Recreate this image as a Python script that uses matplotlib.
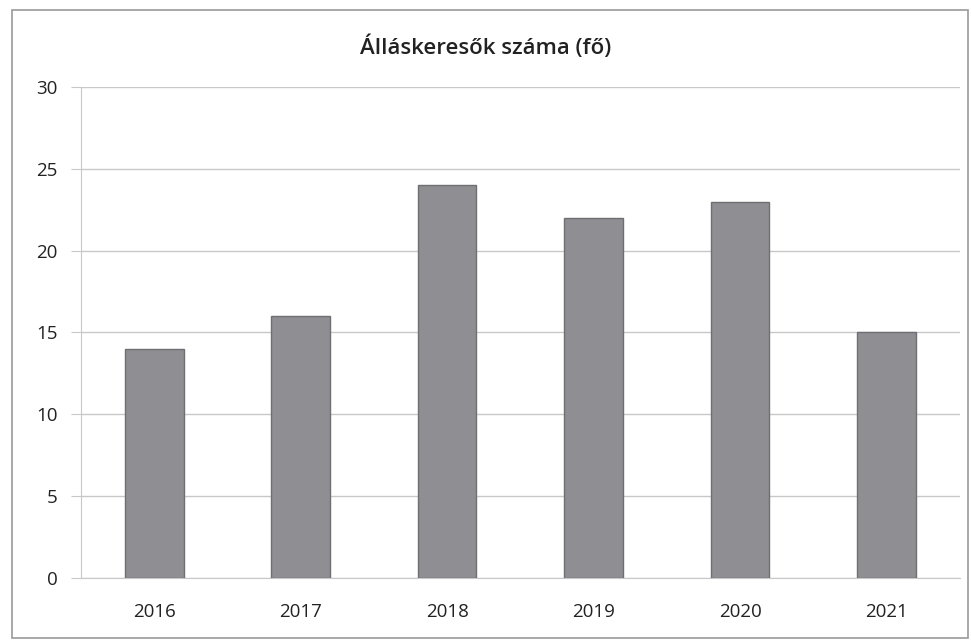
import matplotlib

matplotlib.use("Agg")
import matplotlib.pyplot as plt
import matplotlib.patches as patches
import numpy as np

years = ["2016", "2017", "2018", "2019", "2020", "2021"]
counts = [14, 16, 24, 22, 23, 15]

BAR = "#8f8f93"
EDGE = "#6f6f73"
GRID = "#c8c8c8"
TXT = "#222222"

plt.rcParams["font.family"] = ["Open Sans", "DejaVu Sans"]

fig = plt.figure(figsize=(9.71, 6.42), dpi=100, facecolor="white")

# outer chart frame (scanned Excel look)
frame = patches.Rectangle((0.012, 0.006), 0.985, 0.978, transform=fig.transFigure,
                          fill=False, edgecolor="#9a9a9a", linewidth=1.2)
fig.patches.append(frame)

ax = fig.add_axes([0.0834, 0.0997, 0.905, 0.7648])
x = np.arange(len(years))
ax.bar(x, counts, width=0.4, color=BAR, edgecolor=EDGE, linewidth=1, zorder=3)

ax.set_xlim(-0.5, len(years) - 0.5)
ax.set_ylim(0, 30)
ax.set_yticks(range(0, 31, 5))
ax.set_xticks(x)
ax.set_xticklabels(years)
ax.yaxis.grid(True, color=GRID, linewidth=1, zorder=0)
ax.set_axisbelow(True)

for s in ("top", "right"):
    ax.spines[s].set_visible(False)
ax.spines["left"].set_color(GRID)
ax.spines["bottom"].set_color(GRID)
ax.tick_params(axis="y", colors=GRID, labelcolor=TXT, labelsize=13.5, length=7, pad=10)
ax.tick_params(axis="x", length=0, labelcolor=TXT, labelsize=13.5, pad=18)

fig.text(0.5, 0.927, "Álláskeresők száma (fő)", ha="center", va="center",
         fontsize=16, fontweight="semibold", color=TXT)

fig.savefig("out.png", dpi=100, facecolor="white")
